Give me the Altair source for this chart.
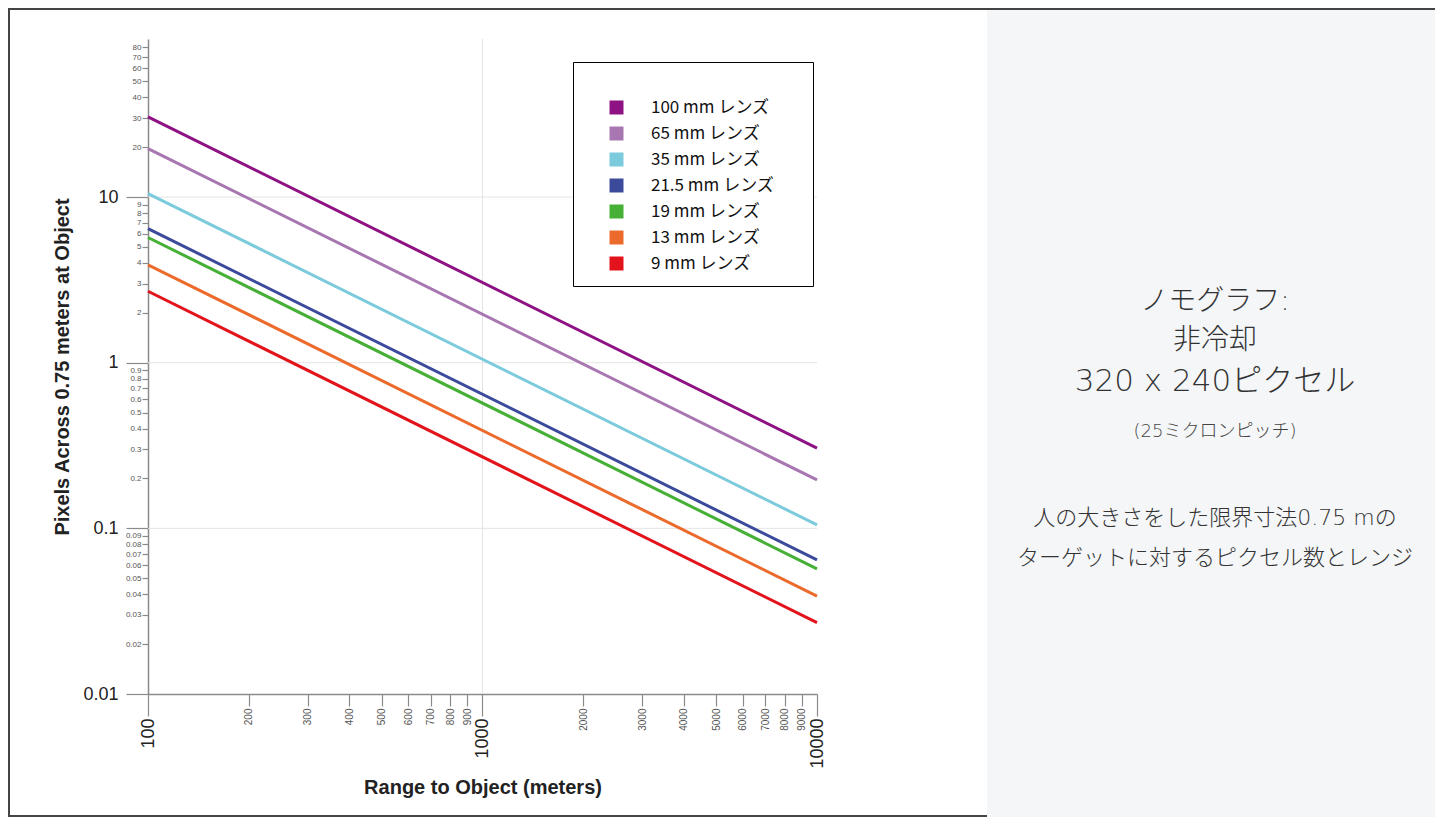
import altair as alt
import pandas as pd

# ---- data ----
lenses = ["100 mm レンズ", "65 mm レンズ", "35 mm レンズ", "21.5 mm レンズ",
          "19 mm レンズ", "13 mm レンズ", "9 mm レンズ"]
colors = ["#8e1284", "#a876b0", "#7ccbdc", "#3c4a9c", "#46b036", "#ec6a2c", "#e3131b"]
range_points = [100, 10000]
pixels_at_100 = [30.5, 19.6, 10.5, 6.45, 5.7, 3.9, 2.7]
pixels_at_10000 = [0.305, 0.196, 0.105, 0.0645, 0.057, 0.039, 0.027]

x_ticks = [100, 200, 300, 400, 500, 600, 700, 800, 900,
           1000, 2000, 3000, 4000, 5000, 6000, 7000, 8000, 9000, 10000]
y_ticks = [0.01, 0.02, 0.03, 0.04, 0.05, 0.06, 0.07, 0.08, 0.09,
           0.1, 0.2, 0.3, 0.4, 0.5, 0.6, 0.7, 0.8, 0.9,
           1, 2, 3, 4, 5, 6, 7, 8, 9,
           10, 20, 30, 40, 50, 60, 70, 80]
x_domain = [100, 10000]
y_domain = [0.01, 90]
grid_x = [1000]
grid_y = [0.1, 1, 10]

panel_lines = ["ノモグラフ:", "非冷却", "320 x 240ピクセル"]
panel_sub = "(25ミクロンピッチ)"
panel_note = ["人の大きさをした限界寸法0.75 mの", "ターゲットに対するピクセル数とレンジ"]

# ---- tables ----
rows = []
for name, a, b in zip(lenses, pixels_at_100, pixels_at_10000):
    rows.append({"lens": name, "range": range_points[0], "pixels": a})
    rows.append({"lens": name, "range": range_points[1], "pixels": b})
df = pd.DataFrame(rows)

vgrid = pd.DataFrame({"range": grid_x, "pixels": [y_domain[0]] * len(grid_x), "p2": [y_domain[1]] * len(grid_x)})
hgrid = pd.DataFrame({"pixels": grid_y, "range": [x_domain[0]] * len(grid_y), "r2": [x_domain[1]] * len(grid_y)})
one = pd.DataFrame({"a": [0]})

W, H = 1427, 809
XR = [140, 809]
YR = [686, 31]
xscale = alt.Scale(type="log", domain=x_domain, range=XR)
yscale = alt.Scale(type="log", domain=y_domain, range=YR)

MAJOR = "abs(log(datum.value)/LN10 - round(log(datum.value)/LN10)) < 0.001"
AX_FONT = "Liberation Sans"

def cond(major, minor):
    return {"condition": {"test": MAJOR, "value": major}, "value": minor}

x_axis = alt.Axis(
    values=x_ticks, format="~g", grid=False, labelAngle=270,
    labelFont=AX_FONT, labelFontSize=cond(18, 10), labelColor=cond("#222222", "#555555"),
    labelOverlap=False, labelPadding=cond(2, 2),
    tickSize=cond(22, 12), tickColor="#8a8a8a", tickWidth=1.2,
    domainColor="#8a8a8a", domainWidth=1.5, offset=-(H - YR[0]),
    title="Range to Object (meters)", titleFont=AX_FONT, titleFontSize=20,
    titleFontWeight="bold", titleColor="#222222", titleY=93, titleBaseline="middle",
)
y_axis = alt.Axis(
    values=y_ticks, format="~g", grid=False,
    labelFont=AX_FONT, labelFontSize=cond(18, 8), labelColor=cond("#222222", "#555555"),
    labelOverlap=False, labelPadding=cond(8, 1),
    tickSize=cond(22, 6), tickColor="#8a8a8a", tickWidth=1.2,
    domainColor="#8a8a8a", domainWidth=1.5, offset=-XR[0],
    title="Pixels Across 0.75 meters at Object", titleFont=AX_FONT, titleFontSize=20,
    titleFontWeight="bold", titleColor="#222222", titleX=-86, titleBaseline="middle",
)

X = alt.X("range:Q", scale=xscale, axis=x_axis)
Y = alt.Y("pixels:Q", scale=yscale, axis=y_axis)

panel = alt.Chart(one).mark_rect(color="#f5f6f8").encode(
    x=alt.value(979), x2=alt.value(W + 2), y=alt.value(2), y2=alt.value(H + 2)
)

vrule = alt.Chart(vgrid).mark_rule(color="#e4e4e4", strokeWidth=1).encode(
    x=X, y=Y, y2="p2:Q",
)
hrule = alt.Chart(hgrid).mark_rule(color="#e4e4e4", strokeWidth=1).encode(
    x=X, y=Y, x2="r2:Q",
)

color_scale = alt.Scale(domain=lenses, range=colors)

lines = alt.Chart(df).mark_line(strokeWidth=3, strokeCap="butt").encode(
    x=X, y=Y,
    color=alt.Color("lens:N", sort=lenses, scale=color_scale, legend=None),
)

keys = alt.Chart(df).mark_square(filled=True, opacity=0, size=10).encode(
    x=X, y=Y,
    color=alt.Color(
        "lens:N", sort=lenses, scale=color_scale,
        legend=alt.Legend(
            orient="none", legendX=565, legendY=54,
            title="\u00a0", titleFont="Liberation Sans", titleFontSize=14,
            titlePadding=9, titleLimit=500,
            padding=14, strokeColor="#000000", fillColor="#ffffff",
            symbolType="square", symbolSize=196, symbolStrokeWidth=0,
            symbolOpacity=1, symbolOffset=21, labelOffset=26,
            labelFont="Noto Sans CJK JP", labelFontSize=17, labelColor="#111111",
            labelExpr="datum.label + '\u2800\u2800'",
            rowPadding=8, labelLimit=300,
        ),
    ),
)

TEXT_FONT = "DejaVu Sans, Noto Sans CJK JP"
texts = []
for t, yy, fs in zip(panel_lines, [294, 333, 374], [28, 28, 31]):
    texts.append(alt.Chart(one).mark_text(font=TEXT_FONT, fontSize=fs, fontWeight=200,
                                          color="#333333", align="center", baseline="middle").encode(
        x=alt.value(1207), y=alt.value(yy), text=alt.value(t)))
texts.append(alt.Chart(one).mark_text(font=TEXT_FONT, fontSize=18, fontWeight=200, color="#444444",
                                      align="center", baseline="middle").encode(
    x=alt.value(1207), y=alt.value(424), text=alt.value(panel_sub)))
for t, yy in zip(panel_note, [510, 550]):
    texts.append(alt.Chart(one).mark_text(font=TEXT_FONT, fontSize=22, fontWeight=200,
                                          color="#333333", align="center", baseline="middle").encode(
        x=alt.value(1207), y=alt.value(yy), text=alt.value(t)))

chart = alt.layer(panel, vrule, hrule, lines, keys, *texts).resolve_legend(
    color="independent"
).properties(
    width=W, height=H,
    autosize=alt.AutoSizeParams(type="none"),
    padding=0,
    background="#ffffff",
).configure_view(stroke="#444444", strokeWidth=4)

chart.save("out.html", embed_options={"renderer": "svg", "actions": False})
